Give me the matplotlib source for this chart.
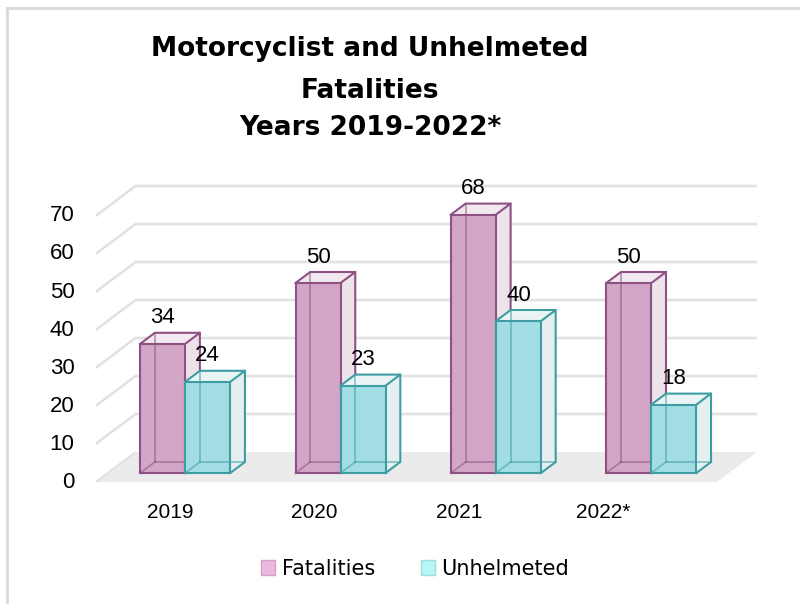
import matplotlib
matplotlib.use('Agg')
import matplotlib.pyplot as plt
from matplotlib.patches import Polygon, Patch
from matplotlib.lines import Line2D
from matplotlib.transforms import ScaledTranslation

years = ['2019', '2020', '2021', '2022*']
fatalities = [34, 50, 68, 50]
unhelmeted = [24, 23, 40, 18]
series_names = ['Fatalities', 'Unhelmeted']
y_ticks = [0, 10, 20, 30, 40, 50, 60, 70]

# oblique projection: depth z in [0, 1] shifts right/up
DX = 0.2576
DY = 7.89
Z_FRONT, Z_BACK = 0.3, 0.667
W = 0.29

face_colors = ['#D3A5C7', '#A3DDE4']
side_colors = ['#EDE3EA', '#E5EFEF']
top_colors = ['#F1E9EF', '#EBF4F4']
edge_colors = ['#8E5282', '#3E9DA3']
legend_colors = ['#EBB9DE', '#B8F5F5']
legend_edges = ['#D3A3C7', '#A3DCDC']


def proj(x, v, z):
    return (x + z * DX, v + z * DY)


fig = plt.figure(figsize=(8, 6.04), dpi=100)
ax = fig.add_axes([95.5 / 800, 122 / 604, (757 - 95.5) / 800, 304 / 604])
ax.set_xlim(-0.5, 3.5 + DX)
ax.set_ylim(0, 80)
ax.axis('off')

x_left = -0.5
x_right = len(years) - 0.5

# floor
floor = Polygon([proj(x_left, 0, 0), proj(x_right, 0, 0), proj(x_right, 0, 1), proj(x_left, 0, 1)],
                closed=True, facecolor='#EBEBEB', edgecolor='none', zorder=1)
ax.add_patch(floor)
ax.plot(*zip(proj(x_left, 0, 0), proj(x_left, 0, 1)), color='#DDDDDD', lw=1.2, zorder=1.5,
        solid_capstyle='butt')

# grid on the back and side walls
for v in y_ticks[1:]:
    pts = [proj(x_left, v, 0), proj(x_left, v, 1), proj(x_right, v, 1)]
    xs, ys = zip(*pts)
    ax.plot(xs, ys, color='#F0F0F0', lw=2.4, zorder=1, solid_capstyle='butt')
    ax.plot(xs, ys, color='#D8D8D8', lw=0.8, zorder=1.2, solid_capstyle='butt')


def draw_bar(x0, v, s, z):
    x1 = x0 + W
    ec = edge_colors[s]
    side = [proj(x1, 0, Z_FRONT), proj(x1, 0, Z_BACK), proj(x1, v, Z_BACK), proj(x1, v, Z_FRONT)]
    top = [proj(x0, v, Z_FRONT), proj(x1, v, Z_FRONT), proj(x1, v, Z_BACK), proj(x0, v, Z_BACK)]
    front = [proj(x0, 0, Z_FRONT), proj(x1, 0, Z_FRONT), proj(x1, v, Z_FRONT), proj(x0, v, Z_FRONT)]
    ax.add_patch(Polygon(side, closed=True, facecolor=side_colors[s], edgecolor='none', zorder=z))
    ax.add_patch(Polygon(top, closed=True, facecolor=top_colors[s], edgecolor='none', zorder=z))
    ax.add_patch(Polygon(front, closed=True, facecolor=face_colors[s], edgecolor='none', zorder=z + 0.1))
    # hidden edges seen through the front face
    hidden = [
        [proj(x0, 0, Z_BACK), proj(x0, v, Z_BACK)],
        [proj(x0, 0, Z_BACK), proj(x1, 0, Z_BACK)],
        [proj(x0, 0, Z_FRONT), proj(x0, 0, Z_BACK)],
    ]
    for seg in hidden:
        xs, ys = zip(*seg)
        ax.plot(xs, ys, color=ec, lw=1.3, alpha=0.55, zorder=z + 0.2)
    visible = [
        front + [front[0]],
        [proj(x1, 0, Z_FRONT), proj(x1, 0, Z_BACK), proj(x1, v, Z_BACK)],
        [proj(x0, v, Z_FRONT), proj(x0, v, Z_BACK), proj(x1, v, Z_BACK), proj(x1, v, Z_FRONT)],
    ]
    for seg in visible:
        xs, ys = zip(*seg)
        ax.plot(xs, ys, color=ec, lw=1.5, zorder=z + 0.3, solid_joinstyle='miter')


label_font = dict(family='Liberation Sans', fontsize=16, color='black')

for i, year in enumerate(years):
    for s, values in enumerate([fatalities, unhelmeted]):
        x0 = i - W + s * W
        v = values[i]
        draw_bar(x0, v, s, 2 + i * 2 + s)
        cx, cy = proj(x0 + W / 2, v, Z_FRONT)
        ax.text(cx, cy + 6.8, str(v), ha='center', va='center', zorder=20, **label_font)

# axis labels
for v in y_ticks:
    ax.text(-0.5, v, str(v), ha='right', va='center', zorder=20,
            transform=ax.transData + ScaledTranslation(-21 / 100, 0, fig.dpi_scale_trans),
            **label_font)

LABEL_SPREAD = 0.927
LABEL_SHIFT = -0.016
for i, year in enumerate(years):
    ax.text(LABEL_SHIFT + LABEL_SPREAD * i, 0, year, ha='center', va='center', zorder=20,
            transform=ax.transData + ScaledTranslation(0, -30 / 100, fig.dpi_scale_trans),
            family='Liberation Sans', fontsize=15, color='black')

title_lines = ['Motorcyclist and Unhelmeted', 'Fatalities', 'Years 2019-2022*']
for line, y in zip(title_lines, [49, 91, 128]):
    fig.text(370 / 800, 1 - y / 604, line, ha='center', va='center',
             fontsize=19, fontweight='bold', family='DejaVu Sans', color='black')

handles = [Patch(facecolor=legend_colors[s], edgecolor=legend_edges[s], lw=1, label=series_names[s])
           for s in range(2)]
fig.legend(handles=handles, loc='center', bbox_to_anchor=(415 / 800, 1 - 569 / 604), ncol=2,
           frameon=False, prop=dict(family='DejaVu Sans', size=15), handlelength=0.7,
           handleheight=0.7, handletextpad=0.3, columnspacing=2.2)

# chart frame
fig.add_artist(Line2D([7 / 800, 1], [1 - 8 / 604, 1 - 8 / 604], color='#D9D9D9', lw=2))
fig.add_artist(Line2D([7 / 800, 7 / 800], [0, 1 - 8 / 604], color='#D9D9D9', lw=2))

fig.savefig('out.png', dpi=100)
